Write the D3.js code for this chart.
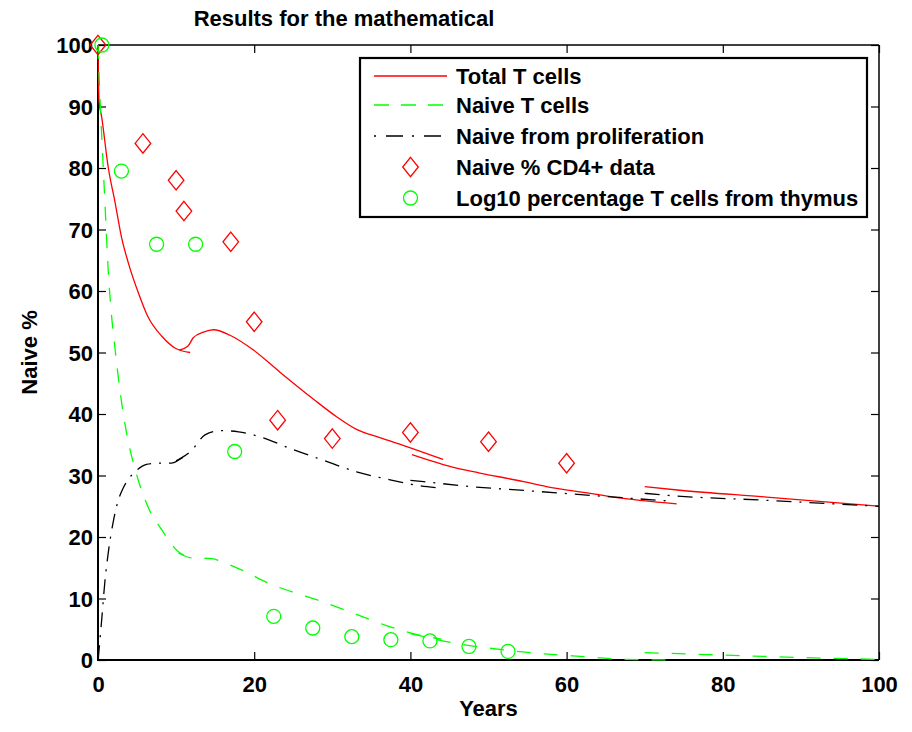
<!DOCTYPE html>
<html>
<head>
<meta charset="utf-8">
<script src="https://cdn.jsdelivr.net/npm/d3@7"></script>
<style>
  html, body { margin: 0; padding: 0; background: #fff; }
  svg { display: block; }
  text { font-family: "Liberation Sans", Arial, sans-serif; font-weight: bold; fill: #000; }
</style>
</head>
<body>
<svg id="chart" width="912" height="732"></svg>
<script>
// ---------------- data ----------------
const titleText = "Results for the mathematical";
const xLabel = "Years";
const yLabel = "Naive %";
const xTicks = [0, 20, 40, 60, 80, 100];
const yTicks = [0, 10, 20, 30, 40, 50, 60, 70, 80, 90, 100];
const seriesNames = ["Total T cells", "Naive T cells", "Naive from proliferation",
                     "Naive % CD4+ data", "Log10 percentage T cells from thymus"];

// Model curves, piecewise (each segment = [year, %] pairs)
const totalSeg1 = [[0,100],[0.13,91],[0.47,88.3],[1.3,80.2],[2.2,74.3],[3.0,68.8],[3.9,64.5],[5.2,59.6],[6.4,55.8],[8.2,52.6],[9.9,50.7],[11.8,50.0]];
const totalSeg2 = [[10.4,50.4],[11.5,51.0],[12.2,52.4],[13.5,53.3],[14.8,53.7],[16.9,52.8],[19.9,50.4],[23.3,46.8],[27.6,42.4],[30.5,39.6],[33.1,37.5],[36,36.2],[40,34.5],[44.2,32.6]];
const totalSeg3 = [[40.2,33.4],[45.9,31.2],[48.9,30.4],[54.5,29.0],[57.4,28.2],[63,27.1],[66,26.5],[74.1,25.4]];
const totalSeg4 = [[70,28.2],[74.5,27.6],[85.6,26.5],[100,25.0]];

const naiveSeg1 = [[0,100],[0.2,93],[0.5,84.6],[0.9,74],[1.3,63.5],[1.6,58],[2.2,50.4],[2.8,43.9],[3.7,36.6],[4.8,30.8],[6.4,24.9],[8.2,21.1],[10.3,17.6],[11.5,16.8]];
const naiveSeg2 = [[10.3,17.4],[12,16.6],[14.6,16.5],[15.8,16.0],[18.8,14.4],[21.8,12.5],[24.8,11.1],[28,9.8],[32.7,7.6],[37.4,5.4],[41.7,3.9],[44,3.4]];
const naiveSeg3 = [[40,4.3],[45.9,2.7],[52.3,1.6],[58,0.9],[63,0.5],[67,0.1],[74,0]];
const naiveSeg4 = [[70,1.2],[80,0.8],[90,0.4],[100,0.1]];

const prolifSeg1 = [[0,0],[0.13,1.6],[0.47,6.5],[0.9,13],[1.3,17.3],[2,22.8],[2.6,26],[3.2,27.9],[3.9,29.4],[5,30.9],[6.2,31.8],[7.5,32],[9.4,32],[10.7,32.8],[11.5,33.4]];
const prolifSeg2 = [[10,32.4],[12,34.1],[13.7,36.6],[15.8,37.3],[18,37.1],[21,36.2],[24.8,34.3],[28.8,32.5],[33.1,30.6],[37.4,29.3],[40.4,28.5],[43.5,28.0]];
const prolifSeg3 = [[40,29.2],[41.7,29.0],[46.8,28.3],[55.3,27.5],[63.8,26.7],[73.7,25.8]];
const prolifSeg4 = [[70,27.1],[73.7,26.7],[85,26.0],[100,25.0]];

// Data points
const cd4Years = [0, 5.75, 10, 11, 17, 20, 23, 30, 40, 50, 60];
const cd4Naive = [100, 84, 78, 73, 68, 55, 39, 36, 37, 35.5, 32];
const thymusYears = [0.5, 3, 7.5, 12.5, 17.5, 22.5, 27.5, 32.5, 37.5, 42.5, 47.5, 52.5];
const thymusPct = [100, 79.5, 67.6, 67.6, 33.9, 7.1, 5.2, 3.8, 3.3, 3.1, 2.2, 1.4];

// ---------------- drawing ----------------
const svg = d3.select("#chart");
const L = 98, R = 879, T = 45, B = 660;
const x = d3.scaleLinear().domain([0, 100]).range([L, R]);
const y = d3.scaleLinear().domain([0, 100]).range([B, T]);

const colRed = "#ff0000", colGreen = "#00ff00", colBlack = "#000000";
const fs = "22px";

// title
svg.append("text").attr("x", 344).attr("y", 26).attr("text-anchor", "middle")
  .style("font-size", fs).text(titleText);

// axes with inward ticks
const gx = svg.append("g").attr("transform", `translate(0,${B})`)
  .call(d3.axisBottom(x).tickValues(xTicks).tickFormat(d3.format("d")).tickSizeInner(-8).tickSizeOuter(0).tickPadding(16));
const gxt = svg.append("g").attr("transform", `translate(0,${T})`)
  .call(d3.axisTop(x).tickValues(xTicks).tickFormat("").tickSizeInner(-8).tickSizeOuter(0));
const gy = svg.append("g").attr("transform", `translate(${L},0)`)
  .call(d3.axisLeft(y).tickValues(yTicks).tickFormat(d3.format("d")).tickSizeInner(-8).tickSizeOuter(0).tickPadding(5));
const gyr = svg.append("g").attr("transform", `translate(${R},0)`)
  .call(d3.axisRight(y).tickValues(yTicks).tickFormat("").tickSizeInner(-8).tickSizeOuter(0));
[gx, gxt, gy, gyr].forEach(g => {
  g.select(".domain").remove();
  g.selectAll(".tick line").attr("stroke", "#000").attr("stroke-width", 1.2);
  g.selectAll("text").style("font-size", fs).style("font-family", '"Liberation Sans", Arial, sans-serif').style("font-weight", "bold");
});
gx.selectAll("text").attr("dy", "0.71em");
gy.selectAll("text").attr("dy", "0.35em");

// frame
svg.append("line").attr("x1", L).attr("x2", R).attr("y1", T).attr("y2", T).attr("stroke", "#000").attr("stroke-width", 1.5);
svg.append("line").attr("x1", R).attr("x2", R).attr("y1", T).attr("y2", B).attr("stroke", "#000").attr("stroke-width", 1.5);
svg.append("line").attr("x1", L).attr("x2", L).attr("y1", T).attr("y2", B + 1).attr("stroke", "#000").attr("stroke-width", 2);
svg.append("line").attr("x1", L - 1).attr("x2", R).attr("y1", B).attr("y2", B).attr("stroke", "#000").attr("stroke-width", 2);

// axis labels
svg.append("text").attr("x", (L + R) / 2).attr("y", 716).attr("text-anchor", "middle")
  .style("font-size", fs).text(xLabel);
svg.append("text").attr("transform", `translate(37,${(T + B) / 2}) rotate(-90)`).attr("text-anchor", "middle")
  .style("font-size", fs).text(yLabel);

// curves
const line = d3.line().x(d => x(d[0])).y(d => y(d[1])).curve(d3.curveMonotoneX);
const curves = [
  { segs: [totalSeg1, totalSeg2, totalSeg3, totalSeg4], color: colRed, dash: null },
  { segs: [naiveSeg1, naiveSeg2, naiveSeg3, naiveSeg4], color: colGreen, dash: "14,13" },
  { segs: [prolifSeg1, prolifSeg2, prolifSeg3, prolifSeg4], color: colBlack, dash: "15,8,2,8" }
];
curves.forEach(c => {
  c.segs.forEach(s => {
    svg.append("path").datum(s).attr("d", line).attr("fill", "none")
      .attr("stroke", c.color).attr("stroke-width", 1.3)
      .attr("stroke-dasharray", c.dash);
  });
});

// markers
const diamond = (cx, cy) => `M${cx},${cy - 9.7}L${cx + 7.8},${cy}L${cx},${cy + 9.7}L${cx - 7.8},${cy}Z`;
svg.append("g").selectAll("path").data(d3.zip(cd4Years, cd4Naive)).join("path")
  .attr("d", d => diamond(x(d[0]), y(d[1])))
  .attr("fill", "none").attr("stroke", colRed).attr("stroke-width", 1.3);
svg.append("g").selectAll("circle").data(d3.zip(thymusYears, thymusPct)).join("circle")
  .attr("cx", d => x(d[0])).attr("cy", d => y(d[1])).attr("r", 7)
  .attr("fill", "none").attr("stroke", colGreen).attr("stroke-width", 1.3);

// legend
const lg = svg.append("g");
lg.append("rect").attr("x", 360).attr("y", 58).attr("width", 507).attr("height", 159)
  .attr("fill", "#fff").attr("stroke", "#000").attr("stroke-width", 2.2);
const rowY = [76, 105, 136, 167, 198];
const sx1 = 374, sx2 = 447, mx = 410.5, tx = 456;
lg.append("line").attr("x1", sx1).attr("x2", sx2).attr("y1", rowY[0]).attr("y2", rowY[0]).attr("stroke", colRed).attr("stroke-width", 1.3);
lg.append("line").attr("x1", sx1).attr("x2", sx2).attr("y1", rowY[1]).attr("y2", rowY[1]).attr("stroke", colGreen).attr("stroke-width", 1.3).attr("stroke-dasharray", "15,12");
lg.append("line").attr("x1", sx1).attr("x2", sx2).attr("y1", rowY[2]).attr("y2", rowY[2]).attr("stroke", colBlack).attr("stroke-width", 1.3).attr("stroke-dasharray", "2,10,17,9");
lg.append("path").attr("d", diamond(mx, rowY[3])).attr("fill", "none").attr("stroke", colRed).attr("stroke-width", 1.3);
lg.append("circle").attr("cx", mx).attr("cy", rowY[4]).attr("r", 7).attr("fill", "none").attr("stroke", colGreen).attr("stroke-width", 1.3);
seriesNames.forEach((n, i) => {
  lg.append("text").attr("x", tx).attr("y", rowY[i]).attr("dy", "0.36em").style("font-size", fs).text(n);
});
</script>
</body>
</html>
